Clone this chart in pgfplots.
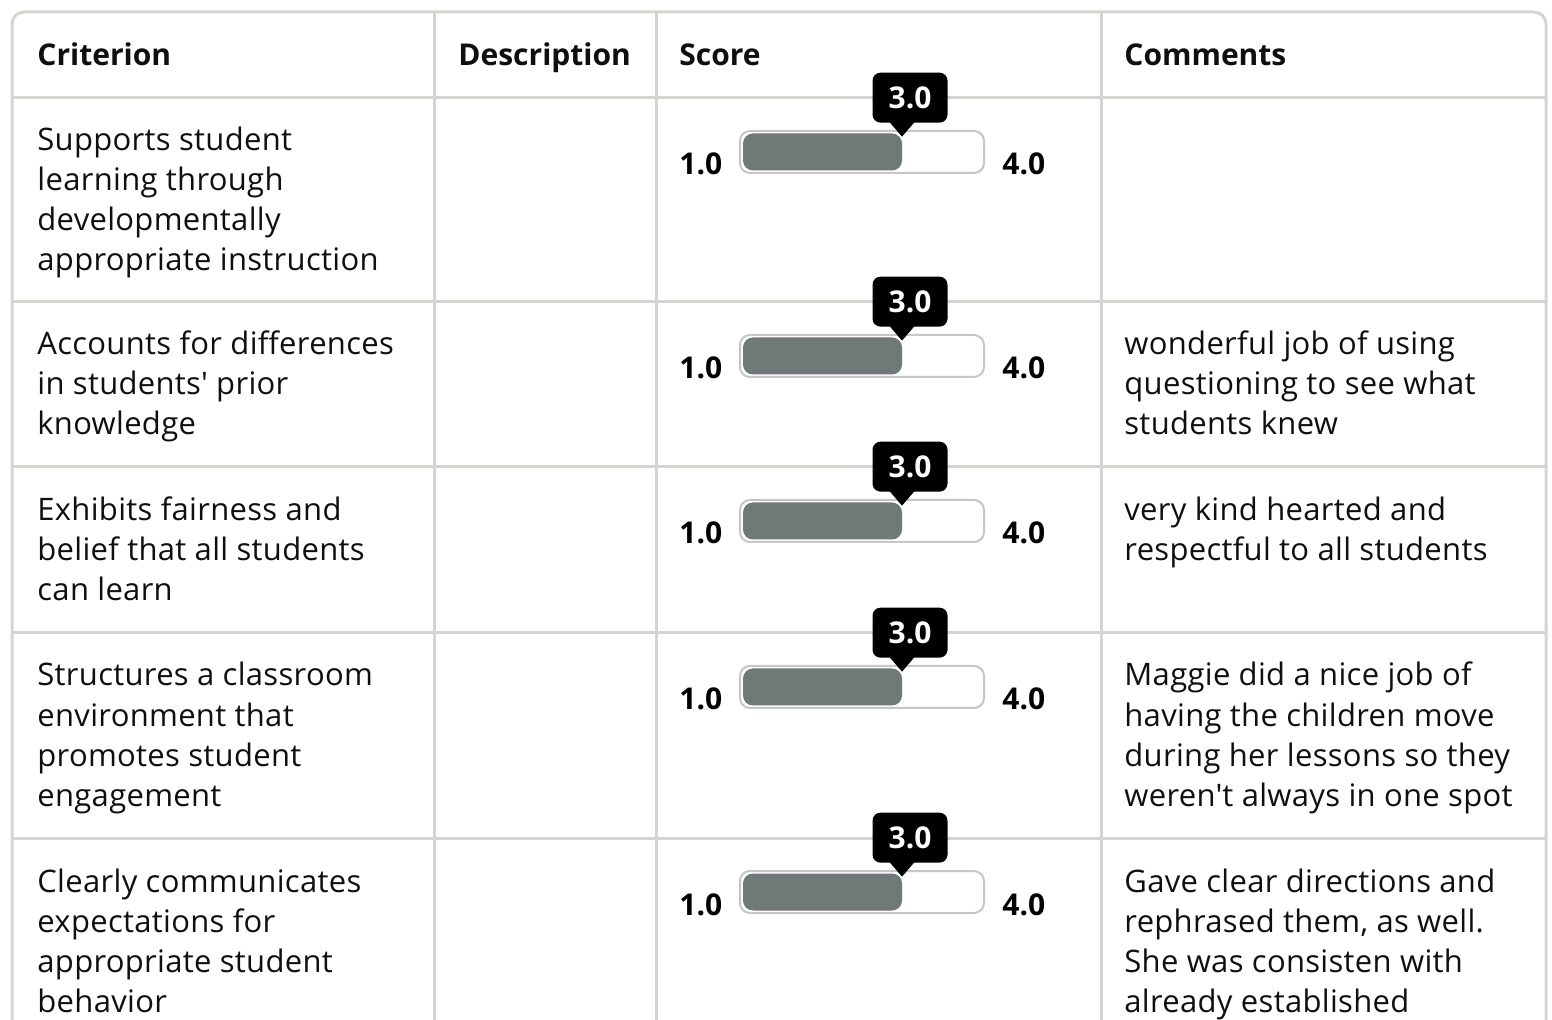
\documentclass[border=0pt]{standalone}
\usepackage{pgfplots}
\pgfplotsset{compat=1.18}
\usepackage{pgfplotstable}
\usepackage{fontspec}
\setmainfont{Open Sans}
\newfontfamily\bodyfont[LetterSpace=1.0]{Open Sans}
\definecolor{gridc}{RGB}{212,212,208}
\definecolor{trackc}{RGB}{198,198,198}
\definecolor{barfill}{RGB}{111,121,120}
\definecolor{txt}{RGB}{15,15,15}
\newcommand{\body}{\fontsize{15}{20}\selectfont}
\newcommand{\bodytxt}{\bodyfont\fontsize{15.5}{20}\selectfont}
\newcommand{\TL}[3]{\node[anchor=base west,inner sep=0pt,font=\bodytxt,text=txt] at (axis cs:#1,#2+2) {#3};}
\newcommand{\HL}[3]{\node[anchor=base west,inner sep=0pt,font=\body\bfseries,text=txt] at (axis cs:#1,#2) {#3};}
\pgfplotsset{pix/.style={
  width=776pt, height=510pt, scale only axis,
  xmin=0, xmax=1552, ymin=0, ymax=1020,
  y dir=reverse, hide axis, clip=false,
  /pgf/number format/assume math mode=true}}

\pgfplotstableread{
y score
152 3.0
356 3.0
521 3.0
687 3.0
892 3.0
}\scores

\begin{document}
\begin{tikzpicture}
% ---------- layer 1: table, tracks, text
\begin{axis}[pix]
\addplot[draw=none] coordinates {(0,0)};
\draw[gridc, line width=1.5pt, rounded corners=6pt] (axis cs:12,1040) -- (axis cs:12,12) -- (axis cs:1546,12) -- (axis cs:1546,1040);
\foreach \yy in {98,302,467,633,838} {
  \edef\tmp{\noexpand\draw[gridc, line width=1.5pt] (axis cs:12,\yy) -- (axis cs:1546,\yy);}\tmp
}
\foreach \xx in {434,656,1101} {
  \edef\tmp{\noexpand\draw[gridc, line width=1.5pt] (axis cs:\xx,12) -- (axis cs:\xx,1040);}\tmp
}
\foreach \yy in {152,356,521,687,892} {
  \edef\tmp{\noexpand\draw[trackc, line width=1pt, fill=white, rounded corners=5pt] (axis cs:740,\yy-21) rectangle (axis cs:984,\yy+21);
  \noexpand\node[anchor=base west,inner sep=0pt,font=\noexpand\body\noexpand\bfseries,text=black] at (axis cs:679,\yy+23) {1.0};
  \noexpand\node[anchor=base west,inner sep=0pt,font=\noexpand\body\noexpand\bfseries,text=black] at (axis cs:1002,\yy+23) {4.0};}\tmp
}
\HL{37}{66}{Criterion}
\HL{458}{66}{Description}
\HL{679}{66}{Score}
\HL{1124}{66}{Comments}
\TL{37}{149}{Supports student}
\TL{37}{189}{learning through}
\TL{37}{229}{developmentally}
\TL{37}{269}{appropriate instruction}
\TL{37}{353}{Accounts for differences}
\TL{37}{393}{in students\textquotesingle{} prior}
\TL{37}{433}{knowledge}
\TL{1124}{353}{wonderful job of using}
\TL{1124}{393}{questioning to see what}
\TL{1124}{433}{students knew}
\TL{37}{519}{Exhibits fairness and}
\TL{37}{559}{belief that all students}
\TL{37}{599}{can learn}
\TL{1124}{519}{very kind hearted and}
\TL{1124}{559}{respectful to all students}
\TL{37}{684}{Structures a classroom}
\TL{37}{724}{environment that}
\TL{37}{764}{promotes student}
\TL{37}{804}{engagement}
\TL{1124}{684}{Maggie did a nice job of}
\TL{1124}{724}{having the children move}
\TL{1124}{764}{during her lessons so they}
\TL{1124}{804}{weren\textquotesingle{}t always in one spot}
\TL{37}{890}{Clearly communicates}
\TL{37}{930}{expectations for}
\TL{37}{970}{appropriate student}
\TL{37}{1010}{behavior}
\TL{1124}{890}{Gave clear directions and}
\TL{1124}{930}{rephrased them, as well.}
\TL{1124}{970}{She was consisten with}
\TL{1124}{1010}{already established}
\end{axis}
% ---------- layer 2: score bars (1.0 .. score)
\begin{axis}[pix, xbar stacked, bar width=18.5pt]
\addplot[draw=none, fill=none] table[x expr=743, y=y]{\scores};
\addplot[fill=barfill, draw=none, rounded corners=5pt]
  table[x expr=(\thisrow{score}-1)*79.5, y=y]{\scores};
\end{axis}
% ---------- layer 3: value tooltips
\begin{axis}[pix]
\addplot[draw=none, mark=triangle*, mark size=4.67pt,
  mark options={fill=black, draw=none, yshift=12.67pt, rotate=180, xscale=1.49},
  point meta=explicit,
  nodes near coords={\pgfmathprintnumber[fixed,fixed zerofill,precision=1]{\pgfplotspointmeta}},
  every node near coord/.style={fill=black, text=white,
    font=\body\bfseries, rounded corners=4pt, minimum width=37.5pt,
    minimum height=25pt, inner sep=0pt, anchor=center, xshift=4pt, yshift=14.5pt},
] table[x expr=743+(\thisrow{score}-1)*79.5, y=y, meta=score]{\scores};
\end{axis}
\pgfresetboundingbox
\path (current axis.south west) rectangle (current axis.north east);
\end{tikzpicture}
\end{document}
